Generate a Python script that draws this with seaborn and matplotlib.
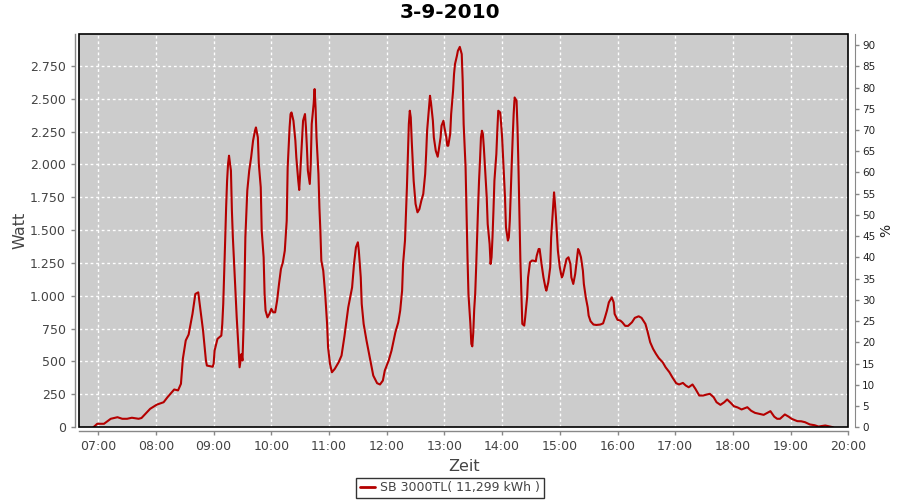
import matplotlib
matplotlib.use("Agg")
from matplotlib import pyplot as plt
from matplotlib import dates as mdates
from matplotlib.lines import Line2D
from matplotlib.patches import Rectangle
from matplotlib.ticker import FuncFormatter, MultipleLocator
import seaborn as sns
import pandas as pd

# readings of the day (time, watt)
times = [
    "06:55", "06:59", "07:06", "07:13", "07:20", "07:25", "07:30", "07:35", "07:42", "07:45",
    "07:54", "08:01", "08:08", "08:12", "08:19", "08:23", "08:26", "08:28", "08:31", "08:34",
    "08:38", "08:41", "08:44", "08:46", "08:49", "08:52", "08:53", "08:59", "09:00", "09:01",
    "09:04", "09:08", "09:09", "09:10", "09:11", "09:12", "09:13", "09:14", "09:15", "09:16",
    "09:18", "09:19", "09:20", "09:22", "09:24", "09:26", "09:27", "09:29", "09:30", "09:31",
    "09:32", "09:33", "09:35", "09:37", "09:39", "09:41", "09:43", "09:44", "09:46", "09:47",
    "09:49", "09:50", "09:52", "09:53", "09:54", "09:56", "09:58", "10:00", "10:02", "10:04",
    "10:06", "10:08", "10:10", "10:12", "10:14", "10:16", "10:17", "10:19", "10:20", "10:21",
    "10:23", "10:25", "10:26", "10:28", "10:29", "10:30", "10:32", "10:33", "10:35", "10:36",
    "10:37", "10:38", "10:40", "10:41", "10:42", "10:44", "10:45", "10:46", "10:47", "10:49",
    "10:50", "10:51", "10:52", "10:54", "10:56", "10:58", "10:59", "11:01", "11:03", "11:06",
    "11:10", "11:13", "11:16", "11:20", "11:24", "11:26", "11:28", "11:30", "11:31", "11:33",
    "11:34", "11:36", "11:39", "11:43", "11:46", "11:50", "11:53", "11:56", "11:58", "12:02",
    "12:05", "12:09", "12:12", "12:14", "12:16", "12:17", "12:19", "12:20", "12:21", "12:22",
    "12:23", "12:24", "12:25", "12:26", "12:27", "12:28", "12:30", "12:32", "12:34", "12:36",
    "12:38", "12:40", "12:41", "12:42", "12:44", "12:45", "12:46", "12:48", "12:49", "12:51",
    "12:53", "12:54", "12:56", "12:57", "12:59", "13:00", "13:02", "13:03", "13:04", "13:06",
    "13:07", "13:09", "13:10", "13:11", "13:13", "13:14", "13:16", "13:18", "13:19", "13:20",
    "13:22", "13:23", "13:24", "13:25", "13:27", "13:28", "13:29", "13:30", "13:31", "13:32",
    "13:33", "13:34", "13:35", "13:36", "13:37", "13:38", "13:39", "13:40", "13:41", "13:42",
    "13:43", "13:44", "13:45", "13:47", "13:48", "13:49", "13:50", "13:51", "13:52", "13:54",
    "13:55", "13:56", "13:58", "13:59", "14:00", "14:01", "14:02", "14:03", "14:04", "14:06",
    "14:07", "14:08", "14:09", "14:10", "14:11", "14:12", "14:13", "14:15", "14:16", "14:17",
    "14:18", "14:19", "14:20", "14:21", "14:23", "14:24", "14:26", "14:27", "14:29", "14:31",
    "14:32", "14:35", "14:36", "14:38", "14:39", "14:41", "14:43", "14:45", "14:46", "14:48",
    "14:50", "14:51", "14:53", "14:54", "14:55", "14:56", "14:57", "14:58", "15:00", "15:02",
    "15:03", "15:05", "15:07", "15:09", "15:11", "15:12", "15:14", "15:16", "15:18", "15:19",
    "15:20", "15:22", "15:24", "15:25", "15:27", "15:29", "15:30", "15:32", "15:35", "15:38",
    "15:42", "15:45", "15:47", "15:49", "15:51", "15:54", "15:56", "15:57", "16:00", "16:03",
    "16:05", "16:08", "16:11", "16:15", "16:18", "16:22", "16:25", "16:29", "16:31", "16:34",
    "16:37", "16:40", "16:43", "16:47", "16:50", "16:54", "16:57", "17:01", "17:04", "17:08",
    "17:11", "17:14", "17:18", "17:21", "17:25", "17:29", "17:33", "17:36", "17:40", "17:43",
    "17:47", "17:51", "17:54", "17:58", "18:01", "18:05", "18:09", "18:15", "18:19", "18:23",
    "18:32", "18:36", "18:39", "18:43", "18:46", "18:49", "18:54", "18:58", "19:01", "19:07",
    "19:11", "19:15", "19:20", "19:25", "19:29", "19:33", "19:36", "19:41", "19:44",
]
watt = [
    0, 26, 26, 64, 76, 64, 64, 72, 64, 70,
    140, 172, 190, 228, 287, 280, 330, 520, 660, 705,
    862, 1014, 1026, 912, 735, 507, 469, 460, 482, 583,
    672, 697, 786, 938, 1166, 1420, 1673, 1876, 2003, 2066,
    1952, 1648, 1445, 1140, 836, 583, 456, 557, 507, 735,
    1039, 1445, 1800, 1952, 2053, 2180, 2256, 2281, 2205, 2003,
    1825, 1496, 1293, 1014, 887, 836, 862, 900, 874, 874,
    963, 1090, 1204, 1255, 1343, 1572, 1977, 2281, 2383, 2395,
    2332, 2180, 2053, 1876, 1805, 1927, 2205, 2332, 2383, 2281,
    2129, 1952, 1851, 2003, 2307, 2459, 2573, 2433, 2205, 1927,
    1673, 1496, 1267, 1191, 1014, 786, 608, 482, 418, 444,
    494, 545, 690, 912, 1064, 1242, 1369, 1407, 1343, 1140,
    938, 786, 659, 507, 393, 335, 325, 355, 431, 507,
    583, 722, 798, 887, 1039, 1242, 1420, 1622, 1825, 2053,
    2307, 2408, 2357, 2180, 2028, 1876, 1699, 1635, 1660, 1724,
    1775, 1927, 2079, 2256, 2433, 2522, 2471, 2332, 2205, 2104,
    2058, 2104, 2205, 2294, 2332, 2281, 2205, 2142, 2142, 2231,
    2383, 2560, 2687, 2763, 2826, 2864, 2894, 2839, 2636, 2307,
    1977, 1622, 1293, 1014, 786, 634, 615, 720, 900, 1014,
    1216, 1445, 1673, 1876, 2028, 2205, 2256, 2231, 2129, 2003,
    1876, 1749, 1546, 1394, 1242, 1293, 1445, 1648, 1876, 2079,
    2256, 2408, 2395, 2307, 2205, 2053, 1901, 1749, 1521, 1420,
    1445, 1572, 1800, 2003, 2205, 2383, 2509, 2484, 2281, 1977,
    1622, 1267, 1014, 786, 773, 836, 988, 1140, 1255, 1268,
    1268, 1262, 1305, 1356, 1356, 1242, 1140, 1064, 1039, 1102,
    1216, 1445, 1673, 1787, 1699, 1597, 1470, 1343, 1216, 1140,
    1153, 1216, 1280, 1293, 1242, 1140, 1090, 1166, 1293, 1356,
    1343, 1293, 1191, 1090, 988, 912, 849, 806, 781, 778,
    781, 790, 836, 887, 950, 988, 950, 862, 817, 811,
    798, 771, 771, 798, 832, 844, 832, 786, 735, 646,
    596, 558, 525, 494, 456, 418, 380, 335, 325, 337,
    317, 304, 325, 292, 241, 241, 249, 254, 228, 190,
    170, 190, 211, 183, 160, 150, 135, 152, 125, 109,
    94, 110, 122, 80, 64, 64, 97, 80, 64, 46,
    45, 38, 21, 15, 5, 10, 13, 5, 0,
]
day = "2010-09-03"
legend_label = "SB 3000TL( 11,299 kWh )"
title = "3-9-2010"

df = pd.DataFrame({"Zeit": pd.to_datetime([day + " " + t for t in times]), "Watt": watt})

line_color = "#b40000"
text_color = "#444444"
axis_color = "#888888"

sns.set_style("white")
plt.rcParams["font.family"] = ["DejaVu Sans"]

fig = plt.figure(figsize=(9, 5), dpi=100)
ax = fig.add_axes([79 / 900, 1 - 427.2 / 500, (848.3 - 79) / 900, (427.2 - 34) / 500])
ax.set_facecolor("#cccccc")

sns.lineplot(data=df, x="Zeit", y="Watt", ax=ax, color=line_color, linewidth=1.5,
             estimator=None, sort=True, legend=False)

# axes ranges
ax.set_xlim(pd.Timestamp(day + " 06:40"), pd.Timestamp(day + " 20:00"))
ax.set_ylim(0, 2992)
ax.xaxis.set_major_locator(mdates.HourLocator())
ax.xaxis.set_major_formatter(mdates.DateFormatter("%H:%M"))
ax.yaxis.set_major_locator(MultipleLocator(250))
ax.yaxis.set_major_formatter(FuncFormatter(lambda v, p: f"{v:,.0f}".replace(",", ".")))

ax.grid(True, color="white", linestyle=(0, (2, 2)), linewidth=1)
ax.set_axisbelow(True)

# border of the plot area + offset grey axis lines
ax.add_patch(Rectangle((0, 0), 1, 1, transform=ax.transAxes, fill=False,
                       edgecolor="black", linewidth=1.2, clip_on=False, zorder=5))
for side in ["top", "right"]:
    ax.spines[side].set_visible(False)
for side in ["left", "bottom"]:
    ax.spines[side].set_position(("outward", 3))
    ax.spines[side].set_color(axis_color)
    ax.spines[side].set_linewidth(1)
ax.tick_params(axis="both", colors=axis_color, labelcolor=text_color, labelsize=9,
               length=3, width=1, direction="out", left=True, bottom=True)

ax.set_xlabel("Zeit", fontsize=11.5, color=text_color, labelpad=4)
ax.set_ylabel("Watt", fontsize=11.5, color=text_color, labelpad=2)

# percent axis on the right
ax2 = ax.twinx()
ax2.set_ylim(0, 92.6)
ax2.yaxis.set_major_locator(MultipleLocator(5))
for side in ["top", "left", "bottom"]:
    ax2.spines[side].set_visible(False)
ax2.spines["right"].set_position(("outward", 5))
ax2.spines["right"].set_color(axis_color)
ax2.tick_params(axis="y", colors=axis_color, labelcolor="#222222", labelsize=7.5,
                length=3, width=1, direction="out", right=True, pad=2)
ax2.set_ylabel("%", fontsize=10, color="#222222", labelpad=3)
ax2.grid(False)

fig.suptitle(title, x=0.5, y=0.995, fontsize=14.5, fontweight="bold", color="black")

handle = Line2D([], [], color=line_color, linewidth=2)
leg = fig.legend([handle], [legend_label], loc="lower center", bbox_to_anchor=(0.5, 0.004),
                 fontsize=9, frameon=True, fancybox=False, handlelength=1.2,
                 handletextpad=0.4, borderpad=0.3, borderaxespad=0)
leg.get_frame().set_edgecolor("black")
leg.get_frame().set_linewidth(1)
for t in leg.get_texts():
    t.set_color(text_color)

plt.savefig("out.png", dpi=100)
